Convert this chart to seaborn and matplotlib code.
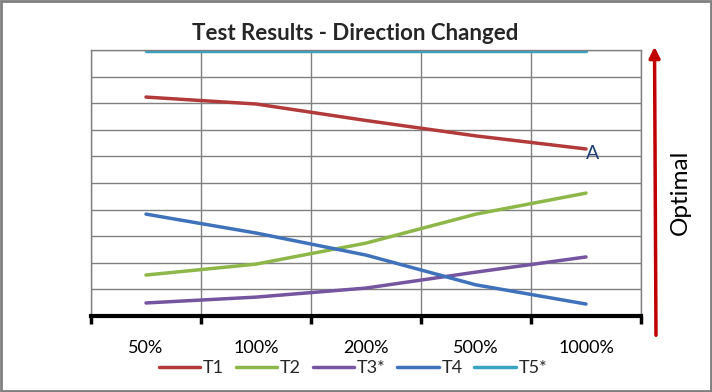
import pandas as pd
import numpy as np
import matplotlib
matplotlib.use("Agg")
import matplotlib.pyplot as plt
import seaborn as sns
from matplotlib.patches import FancyArrowPatch, Rectangle

# Data (y scale 0-10, no labels shown)
categories = ["50%", "100%", "200%", "500%", "1000%"]
t1 = [8.23, 7.97, 7.35, 6.77, 6.28]
t2 = [1.54, 1.95, 2.74, 3.83, 4.62]
t3 = [0.49, 0.71, 1.05, 1.65, 2.22]
t4 = [3.83, 3.12, 2.29, 1.17, 0.45]
t5 = [9.95, 9.95, 9.95, 9.95, 9.95]
series_names = ["T1", "T2", "T3*", "T4", "T5*"]
colors = ["#B33A3A", "#8DB749", "#7554A0", "#3F72BB", "#3AA3C2"]

rows = []
for name, vals in zip(series_names, [t1, t2, t3, t4, t5]):
    for i, v in enumerate(vals):
        rows.append({"pos": i, "value": v, "series": name})
df = pd.DataFrame(rows)

sns.set_theme(style="white")
plt.rcParams["font.family"] = ["Lato", "DejaVu Sans"]

fig = plt.figure(figsize=(7.12, 3.92), dpi=100)
ax = fig.add_axes([91 / 712, 1 - 316 / 392, 550 / 712, 266 / 392])

sns.lineplot(data=df, x="pos", y="value", hue="series", palette=colors,
             hue_order=series_names, linewidth=2.5, ax=ax, legend=True)

ax.set_xlim(-0.5, 4.5)
ax.set_ylim(0, 10)
ax.set_xticks(range(len(categories)))
ax.set_xticklabels(categories, fontsize=13)
ax.set_xticks(np.arange(-0.5, 5, 1), minor=True)
ax.tick_params(axis="x", which="major", length=0, pad=17, colors="black")
ax.tick_params(axis="x", which="minor", length=6, width=2.5, color="black",
               direction="out", bottom=True)
ax.set_yticks(range(0, 11))
ax.set_yticklabels([])
ax.tick_params(axis="y", length=0)
ax.grid(which="minor", axis="x", color="#808080", linewidth=1)
ax.grid(which="major", axis="y", color="#808080", linewidth=1)
ax.grid(which="major", axis="x", visible=False)
ax.set_xlabel("")
ax.set_ylabel("")
for s in ["left", "right", "top"]:
    ax.spines[s].set_color("#808080")
    ax.spines[s].set_linewidth(1)
ax.spines["bottom"].set_color("black")
ax.spines["bottom"].set_linewidth(3)
ax.set_axisbelow(True)

# point annotation
ax.annotate("A", xy=(4, t1[-1]), xytext=(7, -5), textcoords="offset pixels",
            ha="center", va="center", fontsize=14, color="#1F3F73")

handles, labels = ax.get_legend_handles_labels()
ax.legend_.remove()
fig.legend(handles, labels, loc="center", bbox_to_anchor=(353 / 712, 1 - 368 / 392),
           ncol=5, frameon=False, fontsize=13, handlelength=2.3,
           columnspacing=0.65, handletextpad=0.15)

fig.text(355 / 712, 1 - 33 / 392, "Test Results - Direction Changed",
         ha="center", va="center", fontsize=16, fontweight="bold")

# "Optimal" arrow on the right
arrow = FancyArrowPatch((656 / 712, 1 - 338 / 392), (654.5 / 712, 1 - 44 / 392),
                        transform=fig.transFigure, arrowstyle="-|>",
                        mutation_scale=16, color="#C00000", linewidth=2.5)
fig.patches.append(arrow)
fig.text(680 / 712, 1 - 192 / 392, "Optimal", rotation=90, ha="center",
         va="center", fontsize=17.5, color="black")

# outer chart border
fig.patches.append(Rectangle((0.001, 0.002), 0.997, 0.996, transform=fig.transFigure,
                             fill=False, edgecolor="#7F7F7F", linewidth=2))

fig.savefig("out.png", dpi=100)
